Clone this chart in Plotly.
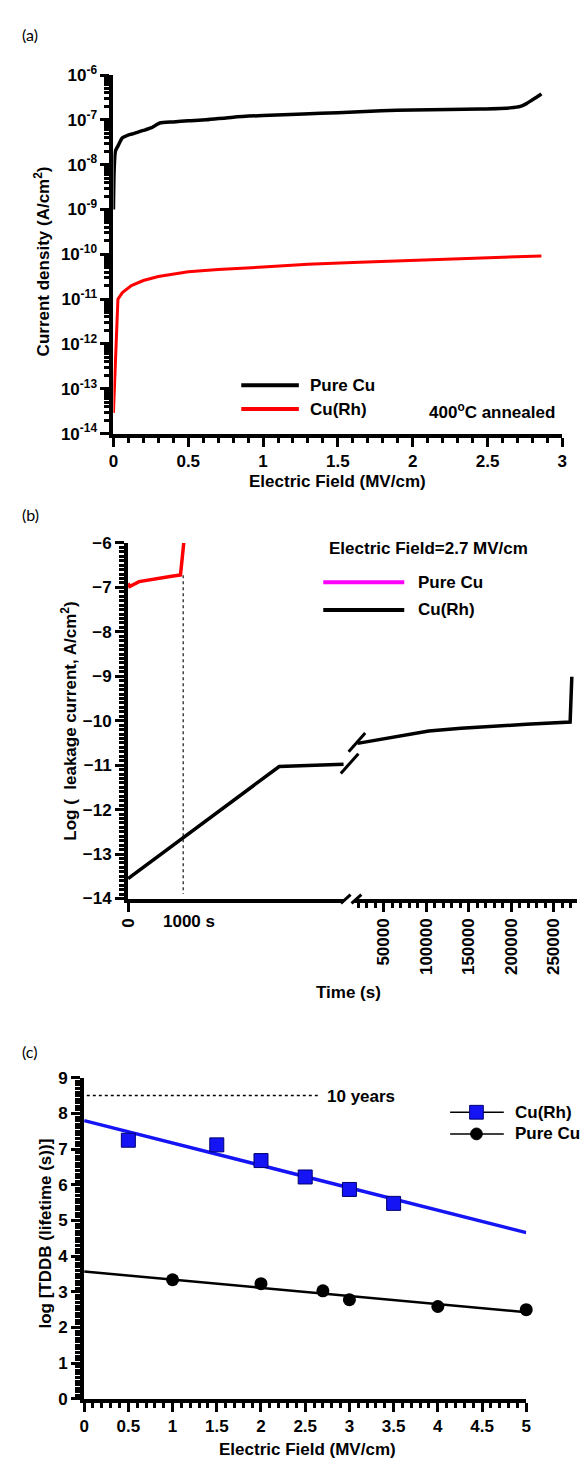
import plotly.graph_objects as go

W, H = 582, 1468


def px(x):
    return x / W


def py(y):
    return 1 - y / H


# ---------------- Panel (a): J-E curves ----------------
a_field_pure = [0, 0.005, 0.013, 0.03, 0.06, 0.1, 0.14, 0.2, 0.25, 0.28, 0.31, 0.4, 0.5,
                0.62, 0.8, 1.0, 1.27, 1.5, 1.79, 2.0, 2.24, 2.45, 2.65, 2.72, 2.76, 2.8, 2.84, 2.86]
a_j_pure = [1e-9, 8e-9, 2e-8, 2.6e-8, 4e-8, 4.6e-8, 5e-8, 5.8e-8, 6.6e-8, 7.5e-8, 8.5e-8, 9.0e-8,
            9.5e-8, 1.0e-7, 1.15e-7, 1.25e-7, 1.35e-7, 1.45e-7, 1.6e-7, 1.65e-7, 1.7e-7, 1.75e-7,
            1.85e-7, 2.0e-7, 2.3e-7, 2.8e-7, 3.4e-7, 3.8e-7]
a_field_rh = [0, 0.03, 0.06, 0.12, 0.2, 0.3, 0.5, 0.7, 1.0, 1.3, 1.6, 2.0, 2.4, 2.86]
a_j_rh = [2.9e-14, 1e-11, 1.4e-11, 2e-11, 2.6e-11, 3.2e-11, 4.1e-11, 4.6e-11, 5.2e-11,
          6e-11, 6.6e-11, 7.4e-11, 8.2e-11, 9.2e-11]
a_x_ticks = [0, 0.5, 1, 1.5, 2, 2.5, 3]
a_x_ticktext = ["0", "0.5", "1", "1.5", "2", "2.5", "3"]
a_y_exponents = [-14, -13, -12, -11, -10, -9, -8, -7, -6]

# ---------------- Panel (b): leakage vs time ----------------
b_t_pure = [0, 30, 200, 500, 790, 950, 1010]
b_logj_pure = [-6.91, -6.98, -6.87, -6.80, -6.75, -6.72, -6.0]
b_t_rh_early = [0, 2740, 3910]
b_logj_rh_early = [-13.55, -11.03, -10.98]
b_t_rh_late = [19000, 45000, 76000, 103000, 141000, 180000, 218000, 269500, 271500]
b_logj_rh_late = [-10.51, -10.42, -10.33, -10.23, -10.17, -10.12, -10.08, -10.03, -9.01]
b_ref_t = [1000, 1000]
b_ref_logj = [-6.73, -13.9]
b_late_ticks = [50000, 100000, 150000, 200000, 250000]

# ---------------- Panel (c): TDDB lifetime ----------------
c_field_rh = [0.5, 1.5, 2.0, 2.5, 3.0, 3.5]
c_life_rh = [7.25, 7.12, 6.68, 6.22, 5.87, 5.48]
c_fit_rh_x = [0, 5.0]
c_fit_rh_y = [7.8, 4.66]
c_field_pure = [1, 2, 2.7, 3, 4, 5]
c_life_pure = [3.34, 3.23, 3.03, 2.78, 2.59, 2.5]
c_fit_pure_x = [0, 5]
c_fit_pure_y = [3.57, 2.43]
c_ten_years_x = [0.03, 2.65]
c_ten_years_y = [8.5, 8.5]

FONT = "Liberation Sans"
BLUE = "rgb(20,20,245)"

fig = go.Figure()

# (a)
fig.add_trace(go.Scatter(x=a_field_pure, y=a_j_pure, mode="lines",
                         line=dict(color="black", width=3.5, shape="spline", smoothing=0.6),
                         xaxis="x", yaxis="y", showlegend=False))
fig.add_trace(go.Scatter(x=a_field_rh, y=a_j_rh, mode="lines", line=dict(color="red", width=3),
                         xaxis="x", yaxis="y", showlegend=False))

# (b)
fig.add_trace(go.Scatter(x=b_ref_t, y=b_ref_logj, mode="lines",
                         line=dict(color="#444", width=1.5, dash="dot"),
                         xaxis="x2", yaxis="y2", showlegend=False))
fig.add_trace(go.Scatter(x=b_t_pure, y=b_logj_pure, mode="lines", line=dict(color="red", width=3.5),
                         xaxis="x2", yaxis="y2", showlegend=False))
fig.add_trace(go.Scatter(x=b_t_rh_early, y=b_logj_rh_early, mode="lines",
                         line=dict(color="black", width=3.5),
                         xaxis="x2", yaxis="y2", showlegend=False))
fig.add_trace(go.Scatter(x=b_t_rh_late, y=b_logj_rh_late, mode="lines",
                         line=dict(color="black", width=3.5),
                         xaxis="x3", yaxis="y2", showlegend=False))

# (c)
fig.add_trace(go.Scatter(x=c_ten_years_x, y=c_ten_years_y, mode="lines",
                         line=dict(color="black", width=1.5, dash="dot"),
                         xaxis="x4", yaxis="y3", showlegend=False))
fig.add_trace(go.Scatter(x=c_fit_rh_x, y=c_fit_rh_y, mode="lines", line=dict(color=BLUE, width=3.5),
                         xaxis="x4", yaxis="y3", showlegend=False))
fig.add_trace(go.Scatter(x=c_fit_pure_x, y=c_fit_pure_y, mode="lines", line=dict(color="black", width=2.5),
                         xaxis="x4", yaxis="y3", showlegend=False))
fig.add_trace(go.Scatter(x=c_field_rh, y=c_life_rh, mode="markers",
                         marker=dict(symbol="square", size=14, color=BLUE,
                                     line=dict(color="rgb(0,0,110)", width=1)),
                         xaxis="x4", yaxis="y3", showlegend=False, cliponaxis=False))
fig.add_trace(go.Scatter(x=c_field_pure, y=c_life_pure, mode="markers",
                         marker=dict(symbol="circle", size=13, color="black"),
                         xaxis="x4", yaxis="y3", showlegend=False, cliponaxis=False))

tickfont = dict(family=FONT, size=17, color="black", weight="bold")


def ax(**kw):
    d = dict(showgrid=False, zeroline=False, showline=True, linecolor="black", linewidth=4,
             ticks="outside", ticklen=9, tickwidth=3, tickcolor="black", tickfont=tickfont)
    d.update(kw)
    return d


def minor(**kw):
    d = dict(ticks="outside", ticklen=5, tickwidth=2.5, tickcolor="black", showgrid=False)
    d.update(kw)
    return d


a_minor_y = [m * 10.0 ** k for k in range(-14, -6) for m in range(2, 10)]

fig.update_layout(
    width=W, height=H, margin=dict(l=0, r=0, t=0, b=0),
    paper_bgcolor="white", plot_bgcolor="white",
    font=dict(family=FONT, size=17, color="black"),
    showlegend=False,
    xaxis=ax(domain=[px(107), px(567)], range=[0, 3], anchor="y",
             tickmode="array", tickvals=a_x_ticks, ticktext=a_x_ticktext,
             minor=minor(tickmode="linear", dtick=0.1, tick0=0)),
    yaxis=ax(domain=[py(428), py(64)], type="log", range=[-14, -6], anchor="x",
             tickmode="array", tickvals=[10.0 ** e for e in a_y_exponents],
             ticktext=["10<sup>%d</sup>" % e for e in a_y_exponents],
             minor=minor(tickmode="array", tickvals=a_minor_y)),
    xaxis2=ax(domain=[px(122), px(343)], range=[0, 3910], anchor="y2",
              tickmode="array", tickvals=[0], ticktext=["0"], tickangle=-90),
    xaxis3=ax(domain=[px(353.5), 1.0], range=[14900, 277600], anchor="y2",
              tickmode="array", tickvals=b_late_ticks, ticktext=[str(v) for v in b_late_ticks],
              tickangle=-90, minor=minor(tickmode="linear", dtick=10000, tick0=0)),
    yaxis2=ax(domain=[py(900), py(539)], range=[-14, -6], anchor="x2",
              tickmode="linear", tick0=-14, dtick=1,
              minor=minor(tickmode="linear", dtick=0.1, tick0=-14)),
    xaxis4=ax(domain=[px(77), px(530)], range=[0, 5], anchor="y3",
              tickmode="linear", tick0=0, dtick=0.5,
              minor=minor(tickmode="linear", dtick=0.1, tick0=0)),
    yaxis3=ax(domain=[py(1408), py(1082)], range=[0, 9], anchor="x4",
              tickmode="linear", tick0=0, dtick=1,
              minor=minor(tickmode="linear", dtick=0.1, tick0=0)),
)

bold17 = dict(family=FONT, size=17, color="black", weight="bold")
label_font = dict(family="Lato", size=16, color="black", weight="normal")

annotations = [
    dict(text="(a)", x=px(11), y=py(23), xanchor="left", yanchor="middle", font=label_font),
    dict(text="(b)", x=px(11), y=py(510), xanchor="left", yanchor="middle", font=label_font),
    dict(text="(c)", x=px(11), y=py(1055), xanchor="left", yanchor="middle", font=label_font),
    dict(text="Electric Field (MV/cm)", x=px(337), y=py(477), xanchor="center", yanchor="middle", font=bold17),
    dict(text="Current density (A/cm<sup>2</sup>)", x=px(34), y=py(253), textangle=-90,
         xanchor="center", yanchor="middle", font=bold17),
    dict(text="Log (\u00a0 leakage current, A/cm<sup>2</sup>)", x=px(62), y=py(720), textangle=-90,
         xanchor="center", yanchor="middle", font=bold17),
    dict(text="Time (s)", x=px(348), y=py(995), xanchor="center", yanchor="middle", font=bold17),
    dict(text="1000 s", x=px(184), y=py(923), xanchor="center", yanchor="middle", font=bold17),
    dict(text="log [TDDB (lifetime (s))]", x=px(37), y=py(1240), textangle=-90,
         xanchor="center", yanchor="middle", font=bold17),
    dict(text="Electric Field (MV/cm)", x=px(306), y=py(1459), xanchor="center", yanchor="middle", font=bold17),
    dict(text="Pure Cu", x=px(306), y=py(379), xanchor="left", yanchor="middle", font=bold17),
    dict(text="Cu(Rh)", x=px(306), y=py(404), xanchor="left", yanchor="middle", font=bold17),
    dict(text="400<sup>o</sup>C annealed", x=px(428), y=py(405), xanchor="left", yanchor="middle", font=bold17),
    dict(text="Electric Field=2.7 MV/cm", x=px(326), y=py(545), xanchor="left", yanchor="middle", font=bold17),
    dict(text="Pure Cu", x=px(417), y=py(579), xanchor="left", yanchor="middle", font=bold17),
    dict(text="Cu(Rh)", x=px(417), y=py(607), xanchor="left", yanchor="middle", font=bold17),
    dict(text="10 years", x=px(324), y=py(1101), xanchor="left", yanchor="middle", font=bold17),
    dict(text="Cu(Rh)", x=px(516), y=py(1117), xanchor="left", yanchor="middle", font=bold17),
    dict(text="Pure Cu", x=px(516), y=py(1139), xanchor="left", yanchor="middle", font=bold17),
]
for a in annotations:
    a.update(xref="paper", yref="paper", showarrow=False)
fig.update_layout(annotations=annotations)


def seg(x0, y0, x1, y1, color="black", width=3):
    return dict(type="line", xref="paper", yref="paper", x0=px(x0), y0=py(y0), x1=px(x1), y1=py(y1),
                line=dict(color=color, width=width))


shapes = [
    seg(238, 379, 297, 379, "black", 4),
    seg(238, 403, 297, 403, "red", 4),
    seg(322, 579, 405, 579, "magenta", 4),
    seg(322, 607, 405, 607, "black", 4),
    seg(340, 773, 358, 753, "black", 3),
    seg(348, 751, 365, 732, "black", 3),
    seg(340, 905, 350, 896, "black", 3),
    seg(351, 905, 361, 896, "black", 3),
    seg(452, 1117, 507, 1117, "black", 1.5),
    seg(452, 1139, 507, 1139, "black", 1.5),
    dict(type="rect", xref="paper", yref="paper", x0=px(472), x1=px(486), y0=py(1124), y1=py(1110),
         fillcolor=BLUE, line=dict(color="rgb(0,0,110)", width=1)),
    dict(type="circle", xref="paper", yref="paper", x0=px(473), x1=px(485), y0=py(1145), y1=py(1133),
         fillcolor="black", line=dict(color="black", width=1)),
]
fig.update_layout(shapes=shapes)

fig.write_html("out.html",
               post_script="document.body.style.margin='0';document.body.style.overflow='hidden';")
